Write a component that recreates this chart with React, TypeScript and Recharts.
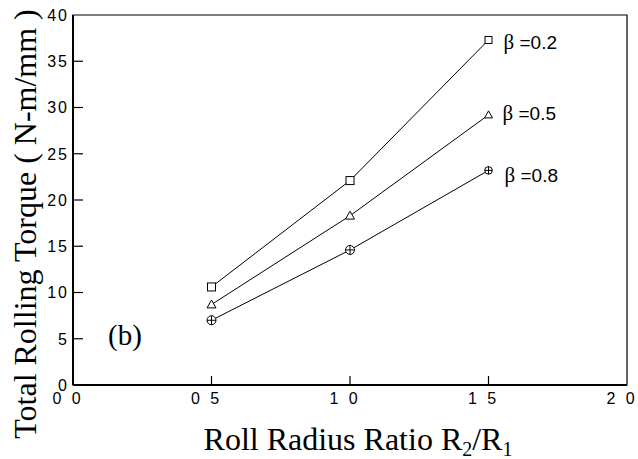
import React from 'react';
import { LineChart, Line, XAxis, YAxis, ReferenceArea, Label, LabelList } from 'recharts';

// Roll radius ratio R2/R1 (x) and total rolling torque in N-m/mm (y)
const radiusRatio = [0.5, 1.0, 1.5];
const torqueBeta02 = [10.6, 22.1, 37.3];
const torqueBeta05 = [8.7, 18.3, 29.2];
const torqueBeta08 = [7.0, 14.6, 23.2];
const seriesBeta = ['0.2', '0.5', '0.8'];

const xTicks = [0, 0.5, 1.0, 1.5, 2.0];
const xTickLabels = ['0 0', '0 5', '1 0', '1 5', '2 0'];
const yTicks = [0, 5, 10, 15, 20, 25, 30, 35, 40];

const data = radiusRatio.map((r, i) => ({
  r,
  b02: torqueBeta02[i],
  b05: torqueBeta05[i],
  b08: torqueBeta08[i],
}));

const SANS = '"Liberation Sans", Arial, sans-serif';
const SERIF = '"Liberation Serif", "Times New Roman", serif';

const lastIndex = radiusRatio.length - 1;

// Open markers; the end points are drawn a little smaller
const SquareDot = (p: any) => {
  const h = p.index === lastIndex ? 3.5 : 4;
  return <rect x={p.cx - h} y={p.cy - h} width={2 * h} height={2 * h} fill="#fff" stroke="#000" strokeWidth={1} />;
};
const TriangleDot = (p: any) => {
  const h = p.index === lastIndex ? 4 : 4.5;
  return (
    <polygon
      points={`${p.cx},${p.cy - h} ${p.cx - h},${p.cy + h * 0.75} ${p.cx + h},${p.cy + h * 0.75}`}
      fill="#fff"
      stroke="#000"
      strokeWidth={1}
    />
  );
};
const CrossCircleDot = (p: any) => {
  const r = p.index === lastIndex ? 3.8 : 4.5;
  return (
    <g>
      <circle cx={p.cx} cy={p.cy} r={r} fill="#fff" stroke="#000" strokeWidth={1} />
      <line x1={p.cx - r} y1={p.cy} x2={p.cx + r} y2={p.cy} stroke="#000" strokeWidth={1} />
      <line x1={p.cx} y1={p.cy - r} x2={p.cx} y2={p.cy + r} stroke="#000" strokeWidth={1} />
    </g>
  );
};

const endLabel = (beta: string, dx: number, dy: number) => (p: any) => {
  if (p.index !== lastIndex) return null;
  return (
    <text x={p.x + dx} y={p.y + dy} fontFamily={SANS} fontSize={19} fill="#000">
      <tspan fontFamily={SERIF} fontSize={21}>β</tspan>
      <tspan> =</tspan>
      <tspan>{beta}</tspan>
    </text>
  );
};

// Tick marks point into the plot; labels sit outside the frame
const X_TICK_GAP = 8;
const XTick = (p: any) => {
  const idx = xTicks.indexOf(p.payload.value);
  const axisY = p.y - X_TICK_GAP;
  const showLine = idx > 0 && idx < xTicks.length - 1;
  return (
    <g>
      {showLine && (
        <line x1={p.x} y1={axisY} x2={p.x} y2={axisY - 9} stroke="#000" strokeWidth={1.2} />
      )}
      <text
        x={p.x - 5}
        y={p.y}
        dy="0.71em"
        textAnchor="middle"
        fontFamily={SANS}
        fontSize={16}
        letterSpacing={3}
        fill="#000"
      >
        {xTickLabels[idx]}
      </text>
    </g>
  );
};

const Y_TICK_GAP = 6;
const YTick = (p: any) => {
  const axisX = p.x + Y_TICK_GAP;
  const v = p.payload.value;
  const showLine = v > yTicks[0] && v < yTicks[yTicks.length - 1];
  return (
    <g>
      {showLine && (
        <line x1={axisX} y1={p.y} x2={axisX + 10} y2={p.y} stroke="#000" strokeWidth={1.2} />
      )}
      <text
        x={p.x + 2}
        y={p.y}
        dy="0.36em"
        textAnchor="end"
        fontFamily={SANS}
        fontSize={16}
        letterSpacing={2}
        fill="#000"
      >
        {v}
      </text>
    </g>
  );
};

export default function App() {
  return (
    <div style={{ position: 'absolute', left: 0, top: 0, width: 638, height: 459, background: '#fff' }}>
      <LineChart
        width={638}
        height={459}
        data={data}
        margin={{ top: 15, right: 11, bottom: 0, left: 0 }}
      >
        <XAxis
          dataKey="r"
          type="number"
          domain={[0, 2]}
          ticks={xTicks}
          interval={0}
          height={74}
          tickSize={0}
          tickMargin={X_TICK_GAP}
          tick={<XTick />}
          tickLine={false}
          axisLine={{ stroke: '#000', strokeWidth: 2 }}
        >
          <Label
            content={(lp: any) => {
              const vb = lp.viewBox;
              const cx = vb.x + vb.width / 2 + 8;
              return (
                <text x={cx} y={vb.y + 65} textAnchor="middle" fontFamily={SERIF} fontSize={32} fill="#000">
                  Roll Radius Ratio R
                  <tspan fontSize={20} dy={6}>2</tspan>
                  <tspan dy={-6}>/R</tspan>
                  <tspan fontSize={20} dy={6}>1</tspan>
                </text>
              );
            }}
          />
        </XAxis>
        <YAxis
          type="number"
          domain={[0, 40]}
          ticks={yTicks}
          interval={0}
          width={73}
          tickSize={0}
          tickMargin={Y_TICK_GAP}
          tick={<YTick />}
          tickLine={false}
          axisLine={{ stroke: '#000', strokeWidth: 2 }}
        >
          <Label
            content={(lp: any) => {
              const vb = lp.viewBox;
              const cx = vb.x + 25;
              const cy = vb.y + vb.height / 2 + 24;
              return (
                <text
                  x={cx}
                  y={cy}
                  textAnchor="middle"
                  dominantBaseline="central"
                  transform={`rotate(-90, ${cx}, ${cy})`}
                  fontFamily={SERIF}
                  fontSize={32}
                  fill="#000"
                >
                  Total Rolling Torque ( N-m/mm )
                </text>
              );
            }}
          />
        </YAxis>
        <ReferenceArea
          x1={0}
          x2={2}
          y1={0}
          y2={40}
          fill="none"
          stroke="#000"
          strokeWidth={1.2}
          ifOverflow="visible"
        >
          <Label
            content={(lp: any) => {
              const vb = lp.viewBox;
              return (
                <text x={vb.x + 35} y={vb.y + vb.height - 40} fontFamily={SERIF} fontSize={29} fill="#000">
                  (b)
                </text>
              );
            }}
          />
        </ReferenceArea>
        <Line dataKey="b02" stroke="#000" strokeWidth={1} dot={<SquareDot />} activeDot={false} isAnimationActive={false}>
          <LabelList dataKey="b02" content={endLabel(seriesBeta[0], 15, 9)} />
        </Line>
        <Line dataKey="b05" stroke="#000" strokeWidth={1} dot={<TriangleDot />} activeDot={false} isAnimationActive={false}>
          <LabelList dataKey="b05" content={endLabel(seriesBeta[1], 14, 5)} />
        </Line>
        <Line dataKey="b08" stroke="#000" strokeWidth={1} dot={<CrossCircleDot />} activeDot={false} isAnimationActive={false}>
          <LabelList dataKey="b08" content={endLabel(seriesBeta[2], 16, 12)} />
        </Line>
      </LineChart>
    </div>
  );
}
